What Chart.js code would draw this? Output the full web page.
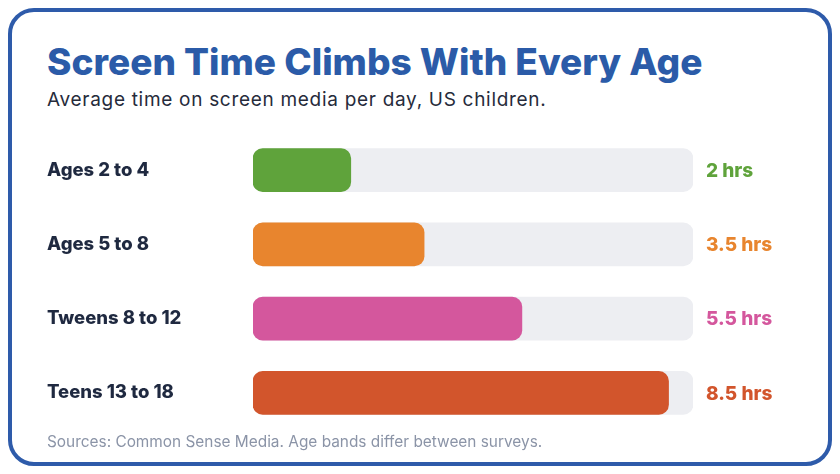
<!DOCTYPE html>
<html>
<head>
<meta charset="utf-8">
<script src="https://cdn.jsdelivr.net/npm/chart.js@4"></script>
<style>
  html, body { margin: 0; padding: 0; background: #fff; }
  body { width: 840px; height: 474px; position: relative; overflow: hidden; font-family: Inter, sans-serif; }
  .card { position: absolute; left: 8px; top: 8px; width: 824px; height: 458px; box-sizing: border-box;
          border: 4px solid #2E5BAA; border-radius: 26px; }
  .title { position: absolute; left: 47px; top: 40px; font-size: 37px; line-height: 44px; font-weight: 800;
           color: #2B5BA8; white-space: nowrap; }
  .sub { position: absolute; left: 47px; top: 88px; font-size: 19px; line-height: 24px; letter-spacing: 0.7px;
         color: #262B3B; white-space: nowrap; }
  .foot { position: absolute; left: 47px; top: 432px; font-size: 15.4px; line-height: 20px; color: #8B94A7; white-space: nowrap; }
  #wrap { position: absolute; left: 47px; top: 122px; width: 753px; height: 319px; }
</style>
</head>
<body>
<div class="card"></div>
<div class="title">Screen Time Climbs With Every Age</div>
<div class="sub">Average time on screen media per day, US children.</div>
<div id="wrap"><canvas id="c"></canvas></div>
<div class="foot">Sources: Common Sense Media. Age bands differ between surveys.</div>
<script>
const labels = ['Ages 2 to 4', 'Ages 5 to 8', 'Tweens 8 to 12', 'Teens 13 to 18'];
const hours = [2, 3.5, 5.5, 8.5];
const maxHours = 9;
const colors = ['#5FA33B', '#E8852E', '#D4579D', '#D2552C'];

// value labels to the right of the grey track
const valueLabels = {
  id: 'valueLabels',
  afterDatasetsDraw(chart) {
    const ctx = chart.ctx;
    const meta = chart.getDatasetMeta(0);
    const x = chart.scales.x.getPixelForValue(maxHours) + 13;
    ctx.save();
    ctx.font = '800 19px Inter';
    ctx.textBaseline = 'middle';
    meta.data.forEach((bar, i) => {
      ctx.fillStyle = colors[i];
      ctx.fillText(hours[i] + ' hrs', x, bar.y + 1);
    });
    ctx.restore();
  }
};

new Chart(document.getElementById('c'), {
  type: 'bar',
  data: {
    labels: labels,
    datasets: [{
      data: hours,
      backgroundColor: colors,
      borderRadius: 10,
      borderSkipped: false,
      barThickness: 43,
      grouped: false,
      order: 0
    }, {
      data: labels.map(() => maxHours),
      backgroundColor: '#EDEEF2',
      borderRadius: 10,
      borderSkipped: false,
      barThickness: 43,
      grouped: false,
      order: 1
    }]
  },
  options: {
    indexAxis: 'y',
    responsive: true,
    maintainAspectRatio: false,
    animation: false,
    layout: { padding: { right: 107, top: 0, bottom: 0, left: 0 } },
    plugins: { legend: { display: false }, tooltip: { enabled: false } },
    scales: {
      x: { display: false, min: 0, max: maxHours },
      y: {
        grid: { display: false, drawTicks: false },
        border: { display: false },
        afterFit(scale) { scale.width = 206; },
        ticks: {
          crossAlign: 'far',
          padding: 0,
          color: '#1F2940',
          font: { family: 'Inter', size: 18.5, weight: '800' }
        }
      }
    }
  },
  plugins: [valueLabels]
});
</script>
</body>
</html>
